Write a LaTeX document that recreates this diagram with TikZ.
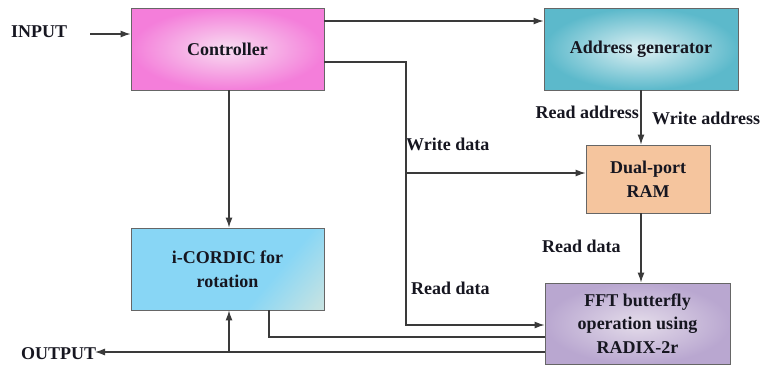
\documentclass[tikz,border=0pt]{standalone}
\usepackage{fontspec}
\setmainfont{Liberation Serif}
\usetikzlibrary{arrows.meta}

\definecolor{wirec}{HTML}{3A3A3A}
\definecolor{boxline}{HTML}{666666}
\definecolor{textc}{HTML}{161620}
\definecolor{pinkout}{HTML}{F47EDA}
\definecolor{pinkin}{HTML}{F8DDF1}
\definecolor{tealout}{HTML}{5CB9CB}
\definecolor{tealin}{HTML}{DDF0F3}
\definecolor{peachout}{HTML}{F5C59E}
\definecolor{peachin}{HTML}{FAEADC}
\definecolor{skyc}{HTML}{88D6F5}
\definecolor{creamc}{HTML}{EEEBD6}
\definecolor{lavout}{HTML}{B9A7D0}
\definecolor{lavin}{HTML}{E4DCEA}

% light blue fading into cream towards one corner
\pgfdeclareverticalshading{skyfade}{100bp}{color(0bp)=(creamc); color(18bp)=(creamc!55!skyc); color(36bp)=(skyc); color(100bp)=(skyc)}

\begin{document}
\begin{tikzpicture}[x=1pt, y=-1pt,
  blk/.style={draw=boxline, line width=0.9pt, align=center, text=textc,
    font=\bfseries\fontsize{18}{23.5}\selectfont, inner sep=0pt},
  lbl/.style={font=\bfseries\fontsize{18}{21}\selectfont, text=textc, inner sep=0pt},
  wire/.style={draw=wirec, line width=1.1pt},
  arr/.style={wire, -{Latex[length=10pt,width=7pt]}}]

\useasboundingbox (0,0) rectangle (761,368);

% functional blocks
\node[blk, inner color=pinkin, outer color=pinkout,
      minimum width=193pt, minimum height=82pt] (ctrl) at (227.5,49) {Controller};
\node[blk, inner color=tealin, outer color=tealout,
      minimum width=194pt, minimum height=82pt] (addr) at (641,49) {Address generator};
\node[blk, top color=peachout, middle color=peachin, bottom color=peachout,
      minimum width=124pt, minimum height=68pt] (ram) at (648,179) {Dual-port\\RAM};
\node[blk, shading=skyfade, shading angle=50,
      minimum width=193pt, minimum height=82pt] (cordic) at (227.5,269) {i-CORDIC for\\rotation};
\node[blk, inner color=lavin, outer color=lavout,
      minimum width=185pt, minimum height=81pt] (fft) at (637.5,323.5) {FFT butterfly\\operation using\\RADIX-2r};

% signal labels
\node[lbl, anchor=west] (inp) at (11,32) {INPUT};
\node[lbl, anchor=west] (outp) at (21,354) {OUTPUT};
\node[lbl, anchor=east] (ra) at (639,112) {Read address};
\node[lbl, anchor=west] (wa) at (652,118) {Write address};
\node[lbl, anchor=west] (wd) at (406,144) {Write data};
\node[lbl, anchor=west] (rd1) at (542,246) {Read data};
\node[lbl, anchor=west] (rd2) at (411,288) {Read data};

% routing points
\coordinate (inS) at (90,34);
\coordinate (top) at (0,21);
\coordinate (wd1) at (406,62);
\coordinate (wd2) at (406,173);
\coordinate (wd3) at (406,325);
\coordinate (ag) at (641,0);
\coordinate (cv) at (229,0);
\coordinate (fb) at (269,337);
\coordinate (ob) at (229,352);
\coordinate (oe) at (95,352);

% connections
\draw[arr] (inS) -- (inS -| ctrl.west);
\draw[arr] (ctrl.east |- top) -- (addr.west |- top);
\draw[arr] (ctrl.east |- wd1) -| (wd3) -- (wd3 -| fft.west);
\draw[arr] (wd2) -- (wd2 -| ram.west);
\draw[arr] (addr.south -| ag) -- (ram.north -| ag);
\draw[arr] (ram.south -| ag) -- (fft.north -| ag);
\draw[arr] (ctrl.south -| cv) -- (cordic.north -| cv);
\draw[wire] (fft.west |- fb) -- (fb) -- (cordic.south -| fb);
\draw[arr] (fft.west |- ob) -- (oe);
\draw[arr] (ob) -- (cordic.south -| ob);
\end{tikzpicture}
\end{document}
